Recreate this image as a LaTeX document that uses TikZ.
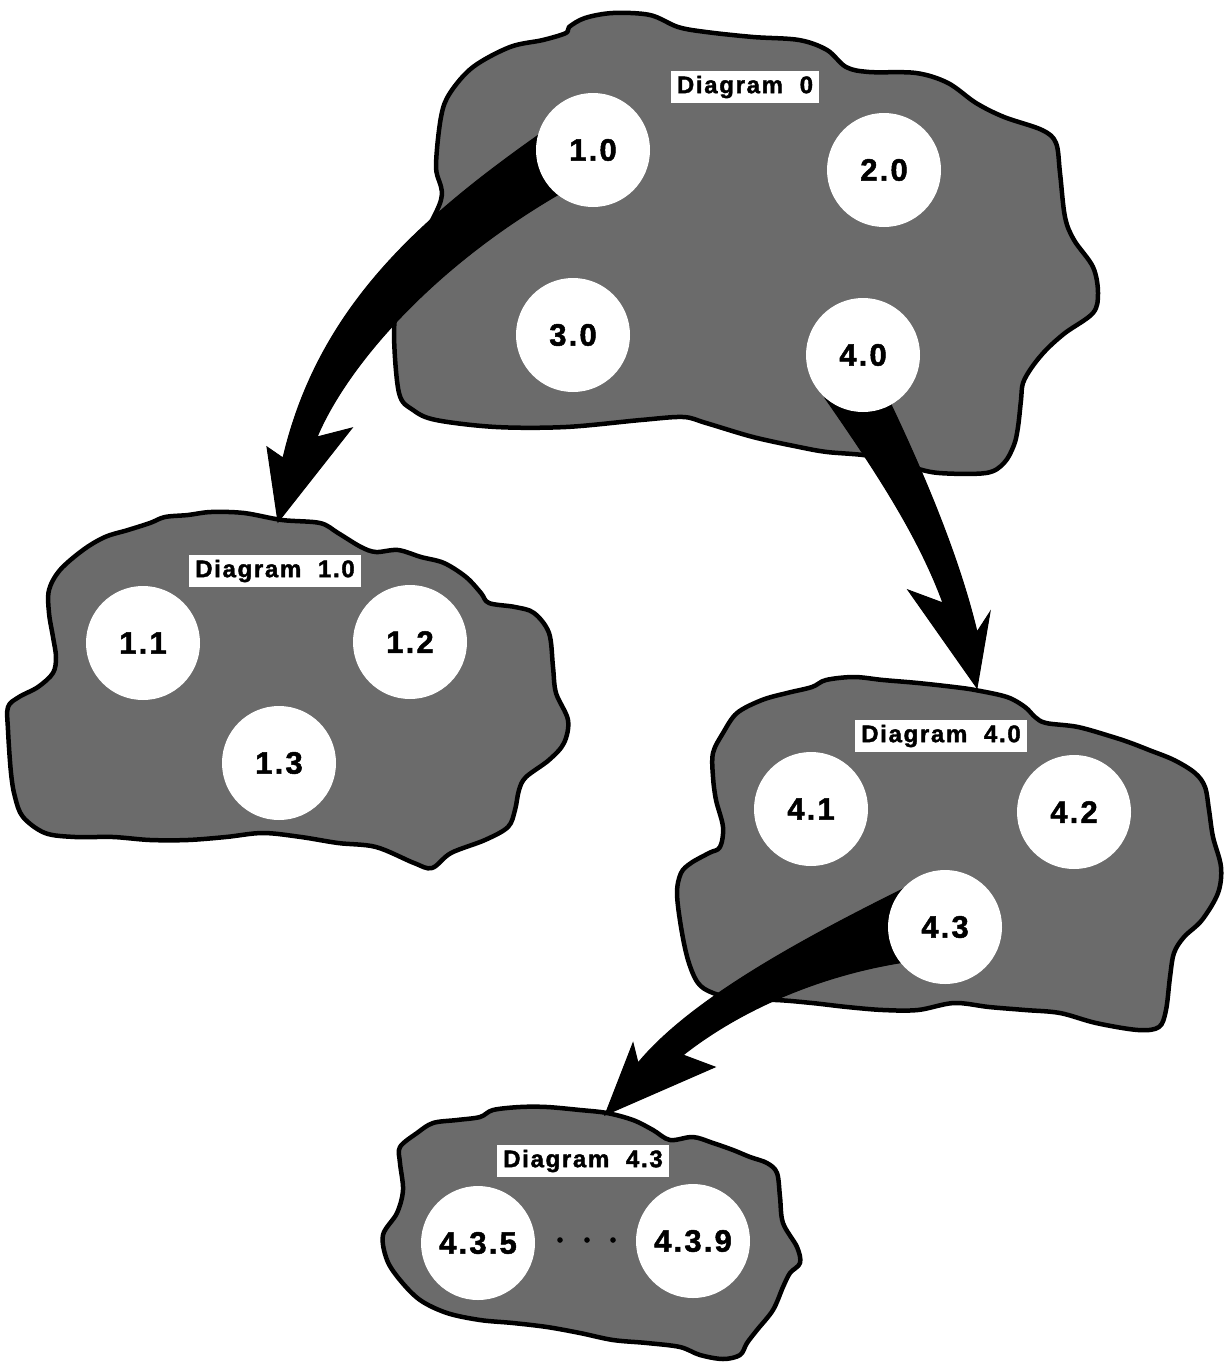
\documentclass[tikz,border=0pt]{standalone}
\usepackage{fontspec}
\newfontfamily\labelfont{Liberation Sans}[LetterSpace=7, BoldFeatures={FakeBold=1.6}]
\begin{document}
\begin{tikzpicture}[x=1pt,y=-1pt,
  blob/.style={fill=black!58, draw=black, line width=4.5pt, line join=round},
  bubble/.style={circle, fill=white, minimum size=114pt, inner sep=0pt,
    font=\labelfont\bfseries\fontsize{31}{31}\selectfont},
  title/.style={fill=white, inner xsep=6pt, inner ysep=0pt, minimum height=32pt,
    font=\labelfont\bfseries\fontsize{24}{24}\selectfont},
  pointer/.style={fill=black, draw=black, line width=1pt, line join=miter}]

% page
\fill[white] (0,0) rectangle (1226,1365);
\useasboundingbox (0,0) rectangle (1226,1365);

% ---- cloud outlines ----
% Diagram 0
\path[blob] plot[smooth cycle, tension=0.55] coordinates {
  (569,27) (585,18) (613,13) (650,15) (678,27) (706,32) (753,37) (799,40)
  (827,50) (846,67) (869,72) (916,73) (948,83) (976,103) (1004,117) (1042,130)
  (1056,143) (1060,173) (1065,217) (1074,240) (1093,267) (1098,293) (1093,313)
  (1065,333) (1046,350) (1032,367) (1023,383) (1021,400) (1018,427) (1014,445)
  (1004,463) (986,473) (939,473) (911,467) (870,456) (827,452) (799,447)
  (753,437) (706,423) (683,417) (641,420) (566,427) (496,427) (436,420)
  (413,410) (399,393) (394,333) (399,300) (412,258) (441,200) (436,167)
  (441,117) (450,93) (473,67) (510,47) (543,40) (566,33)};

% Diagram 1.0
\path[blob] plot[smooth cycle, tension=0.55] coordinates {
  (150,523) (165,517) (188,515) (211,512) (244,513) (282,520) (320,523)
  (338,533) (361,547) (376,552) (398,550) (421,557) (444,563) (466,577)
  (481,593) (489,603) (515,607) (534,613) (549,633) (553,667) (556,693)
  (568,720) (564,743) (549,760) (526,777) (519,790) (515,810) (508,827)
  (485,840) (451,853) (432,868) (414,863) (376,847) (338,843) (301,837)
  (263,833) (226,837) (188,840) (150,840) (113,837) (75,837) (45,833)
  (23,817) (15,797) (11,773) (8,730) (8,707) (19,697) (38,687) (53,673)
  (56,657) (53,637) (49,613) (49,590) (60,570) (83,550) (105,537) (128,530)};

% Diagram 4.0
\path[blob] plot[smooth cycle, tension=0.55] coordinates {
  (812,687) (826,680) (854,677) (883,680) (918,683) (954,687) (975,690)
  (1007,697) (1025,707) (1035,717) (1046,723) (1078,727) (1113,737)
  (1131,743) (1149,750) (1174,760) (1195,773) (1205,787) (1209,810)
  (1213,837) (1221,867) (1218,893) (1202,920) (1184,937) (1174,953)
  (1170,977) (1166,1010) (1159,1027) (1138,1030) (1096,1023) (1060,1013)
  (1025,1010) (989,1007) (954,1003) (918,1010) (883,1010) (847,1007)
  (812,1003) (776,1000) (741,1000) (713,993) (698,983) (688,960) (681,927)
  (677,893) (681,873) (691,863) (709,853) (720,847) (723,827) (716,800)
  (713,777) (713,753) (723,733) (737,713) (762,700) (787,693)};

% Diagram 4.3
\path[blob] plot[smooth cycle, tension=0.55] coordinates {
  (480,1117) (493,1110) (520,1107) (547,1107) (580,1110) (607,1113)
  (633,1120) (653,1130) (670,1140) (693,1137) (713,1143) (733,1150)
  (750,1157) (767,1163) (777,1173) (780,1197) (783,1223) (797,1247)
  (800,1263) (790,1273) (783,1287) (773,1310) (757,1330) (747,1343)
  (740,1355) (723,1359) (700,1355) (680,1347) (647,1343) (613,1340)
  (580,1333) (547,1327) (513,1323) (480,1320) (447,1313) (420,1300)
  (400,1280) (387,1260) (383,1235) (397,1213) (403,1190) (400,1163)
  (400,1147) (417,1133) (433,1123) (457,1120)};

% ---- arrow tips on the clouds they point into ----
\coordinate (tipA) at (278,522);
\coordinate (tipB) at (977,688);
\coordinate (tipC) at (605,1115);

% ---- curved pointers ----
% 1.0 -> Diagram 1.0
\path[pointer] (560,120) .. controls (430,210) and (320,300) .. (283,458)
  -- (267,447) -- (tipA) -- (352,428) -- (317,437)
  .. controls (345,370) and (430,265) .. (575,185) -- cycle;
% 4.0 -> Diagram 4.0
\path[pointer] (825,398) .. controls (875,470) and (918,535) .. (943,603)
  -- (908,590) -- (tipB) -- (990,612) -- (977,632)
  .. controls (960,560) and (925,475) .. (885,392) -- cycle;
% 4.3 -> Diagram 4.3
\path[pointer] (905,888) .. controls (800,940) and (690,1000) .. (638,1063)
  -- (633,1043) -- (tipC) -- (715,1067) -- (683,1055)
  .. controls (740,1010) and (820,975) .. (905,962) -- cycle;

% ---- processes ----
\node[bubble] (p10) at (593,150) {1.0};
\node[bubble] (p20) at (884,170) {2.0};
\node[bubble] (p30) at (573,335) {3.0};
\node[bubble] (p40) at (863,355) {4.0};

\node[bubble] (p11) at (143,643) {1.1};
\node[bubble] (p12) at (410,642) {1.2};
\node[bubble] (p13) at (279,763) {1.3};

\node[bubble] (p41) at (811,809) {4.1};
\node[bubble] (p42) at (1074,812) {4.2};
\node[bubble] (p43) at (945,927) {4.3};

\node[bubble] (p435) at (478,1243) {4.3.5};
\node[bubble] (p439) at (693,1241) {4.3.9};

% ellipsis between the two lower processes
\fill (560,1240) circle (2.8) (587,1240) circle (2.8) (613,1240) circle (2.8);

% ---- diagram titles ----
\node[title] (d0)  at (745,87)   {Diagram~~0};
\node[title] (d10) at (275,571)  {Diagram~~1.0};
\node[title] (d40) at (941,736)  {Diagram~~4.0};
\node[title] (d43) at (583,1161) {Diagram~~4.3};

\end{tikzpicture}
\end{document}
